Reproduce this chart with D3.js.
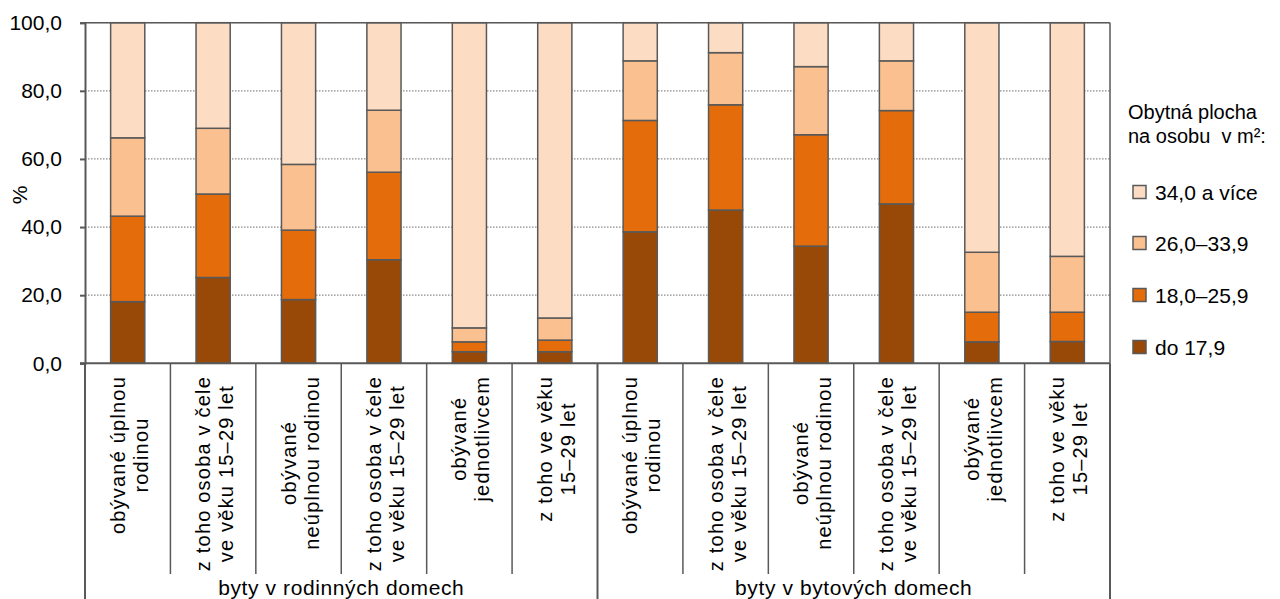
<!DOCTYPE html>
<html>
<head>
<meta charset="utf-8">
<script src="https://cdnjs.cloudflare.com/ajax/libs/d3/7.8.5/d3.min.js"></script>
<style>
  html, body { margin: 0; padding: 0; background: #ffffff; }
  svg { display: block; font-family: "Liberation Sans", Arial, sans-serif; }
</style>
</head>
<body>
<svg id="chart" width="1280" height="599"></svg>
<script>
// ---------- data ----------
const groups = ["byty v rodinných domech", "byty v bytových domech"];
const categoryLabels = [
  ["obývané úplnou", "rodinou"],
  ["z toho osoba v čele", "ve věku 15–29 let"],
  ["obývané", "neúplnou rodinou"],
  ["z toho osoba v čele", "ve věku 15–29 let"],
  ["obývané", "jednotlivcem"],
  ["z toho ve věku", "15–29 let"],
  ["obývané úplnou", "rodinou"],
  ["z toho osoba v čele", "ve věku 15–29 let"],
  ["obývané", "neúplnou rodinou"],
  ["z toho osoba v čele", "ve věku 15–29 let"],
  ["obývané", "jednotlivcem"],
  ["z toho ve věku", "15–29 let"]
];
const seriesNames = ["do 17,9", "18,0–25,9", "26,0–33,9", "34,0 a více"];
const do179   = [18.1, 25.2, 18.7, 30.4, 3.4, 3.4, 38.6, 45.0, 34.4, 46.8, 6.3, 6.4];
const s180259 = [25.1, 24.5, 20.4, 25.7, 2.9, 3.4, 32.7, 30.9, 32.7, 27.4, 8.7, 8.6];
const s260339 = [23.0, 19.3, 19.3, 18.2, 4.1, 6.5, 17.5, 15.3, 20.0, 14.6, 17.6, 16.4];
const s340    = [33.8, 31.0, 41.6, 25.7, 89.6, 86.7, 11.2, 8.8, 12.9, 11.2, 67.4, 68.6];
const yTicks = [0, 20, 40, 60, 80, 100];
const legendTitle = ["Obytná plocha", "na osobu  v m²:"];
const yLabel = "%";

// ---------- styles ----------
const colors = ["#984807", "#E46C0A", "#FAC090", "#FCDCC2"];
const strokeCol = "#595959";
const plotLeft = 85, plotRight = 1110, plotTop = 22.7, plotBottom = 363.3;

const svg = d3.select("#chart");
const rows = categoryLabels.map((c, i) => ({
  idx: i, s0: do179[i], s1: s180259[i], s2: s260339[i], s3: s340[i]
}));
const keys = ["s0", "s1", "s2", "s3"];
const stacked = d3.stack().keys(keys)(rows);

const x = d3.scaleBand().domain(rows.map(d => d.idx)).range([plotLeft, plotRight])
  .paddingInner(0.6).paddingOuter(0.3);
const step = x.step();
const y = d3.scaleLinear().domain([0, 100]).range([plotBottom, plotTop]);

// gridlines
svg.append("g").selectAll("line").data(yTicks.filter(t => t > 0)).join("line")
  .attr("x1", plotLeft).attr("x2", plotRight)
  .attr("y1", d => y(d)).attr("y2", d => y(d))
  .attr("stroke", "#8a8a8a").attr("stroke-width", 1.3)
  .attr("stroke-dasharray", "1.5,1.5");

// bars
svg.append("g").selectAll("g").data(stacked).join("g")
  .attr("fill", (d, i) => colors[i])
  .selectAll("rect").data(d => d).join("rect")
  .attr("x", d => x(d.data.idx))
  .attr("width", x.bandwidth())
  .attr("y", d => y(d[1]))
  .attr("height", d => y(d[0]) - y(d[1]))
  .attr("stroke", strokeCol).attr("stroke-width", 1.5);

// frame: top and right
svg.append("line").attr("x1", plotLeft).attr("x2", plotRight).attr("y1", plotTop).attr("y2", plotTop)
  .attr("stroke", strokeCol).attr("stroke-width", 1.5);
svg.append("line").attr("x1", plotRight).attr("x2", plotRight).attr("y1", plotTop).attr("y2", plotBottom)
  .attr("stroke", strokeCol).attr("stroke-width", 1.5);

// y axis
const yAxis = svg.append("g").attr("transform", `translate(${plotLeft},0)`)
  .call(d3.axisLeft(y).tickValues(yTicks).tickSize(5).tickPadding(18)
    .tickFormat(d => d3.format(".1f")(d).replace(".", ",")));
yAxis.select(".domain").attr("stroke", strokeCol).attr("stroke-width", 2);
yAxis.selectAll(".tick line").attr("stroke", strokeCol).attr("stroke-width", 2);
yAxis.selectAll(".tick text").attr("font-size", 21).attr("fill", "#000")
  .attr("font-family", "'Liberation Sans', Arial, sans-serif");

// x axis line
svg.append("line").attr("x1", plotLeft - 5).attr("x2", plotRight).attr("y1", plotBottom).attr("y2", plotBottom)
  .attr("stroke", strokeCol).attr("stroke-width", 2);

// y label
svg.append("text").attr("transform", "translate(27,195) rotate(-90)")
  .attr("text-anchor", "middle").attr("font-size", 21).text(yLabel);

// category separators
const boundaries = d3.range(13).map(i => plotLeft + i * step);
svg.append("g").selectAll("line").data(boundaries).join("line")
  .attr("x1", d => d).attr("x2", d => d)
  .attr("y1", plotBottom)
  .attr("y2", (d, i) => (i % 6 === 0) ? 599 : 574)
  .attr("stroke", strokeCol).attr("stroke-width", (d, i) => (i % 6 === 0) ? 2 : 1.5);

// category labels (rotated)
const labTop = 376, lineH = 23;
const catG = svg.append("g").selectAll("g").data(rows).join("g")
  .attr("transform", d => `translate(${x(d.idx) + x.bandwidth() / 2},0) rotate(-90)`);
catG.each(function (d) {
  const g = d3.select(this);
  const lines = categoryLabels[d.idx];
  const texts = lines.map((ln, j) => g.append("text")
    .attr("font-size", 20).attr("letter-spacing", 1.2)
    .attr("text-anchor", "middle")
    .attr("y", -3 + j * lineH)
    .text(ln));
  const maxW = d3.max(texts, t => t.node().getComputedTextLength());
  texts.forEach(t => t.attr("x", -(labTop + maxW / 2)));
});

// group labels
svg.append("g").selectAll("text").data(groups).join("text")
  .attr("x", (d, i) => plotLeft + (i * 6 + 3) * step)
  .attr("y", 595)
  .attr("text-anchor", "middle").attr("font-size", 21).attr("letter-spacing", 0.6)
  .text(d => d);

// legend
const lg = svg.append("g");
lg.selectAll("text.title").data(legendTitle).join("text").attr("class", "title")
  .attr("x", 1128).attr("y", (d, i) => 119 + i * 24)
  .attr("font-size", 20).attr("xml:space", "preserve").text(d => d);
const legendOrder = [3, 2, 1, 0];
const legY = [192, 243, 295, 347];
const li = lg.selectAll("g.item").data(legendOrder).join("g").attr("class", "item")
  .attr("transform", (d, i) => `translate(1133,${legY[i]})`);
li.append("rect").attr("x", 0).attr("y", -6.5).attr("width", 13).attr("height", 13)
  .attr("fill", d => colors[d]).attr("stroke", strokeCol).attr("stroke-width", 1.5);
li.append("text").attr("x", 22).attr("y", 0).attr("dy", "0.36em")
  .attr("font-size", 21).text(d => seriesNames[d]);
</script>
</body>
</html>
